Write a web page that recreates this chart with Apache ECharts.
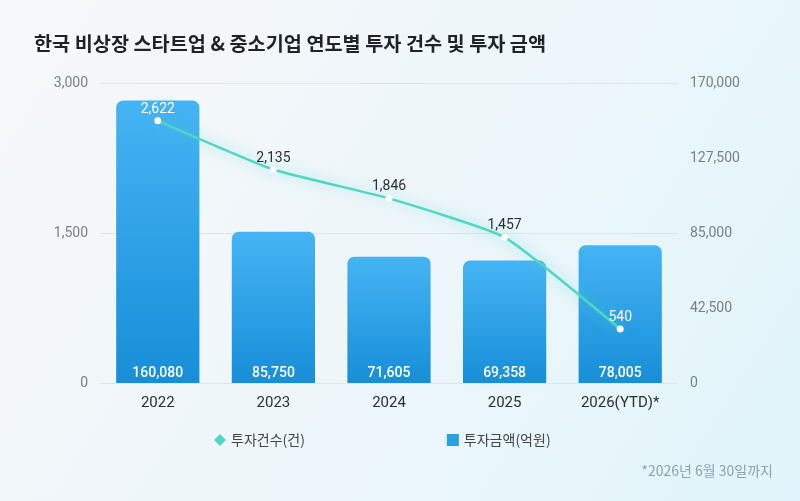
<!DOCTYPE html>
<html>
<head>
<meta charset="utf-8">
<script src="https://cdn.jsdelivr.net/npm/echarts@6/dist/echarts.min.js"></script>
<style>
    html, body { margin: 0; padding: 0; }
    #myChart { width: 800px; height: 501px; }
</style>
</head>
<body>
<div id="myChart"></div>
<script>
//데이터
var years = ['2022', '2023', '2024', '2025', '2026(YTD)*'];
var dealCounts = [2622, 2135, 1846, 1457, 540];
var dealAmounts = [160080, 85750, 71605, 69358, 78005];
var legendNames = ['투자건수(건)', '투자금액(억원)'];
var whiteLabelIdx = [0, 4]; //막대 위에 놓이는 라벨

function fmt(v) {
    return String(v).replace(/\B(?=(\d{3})+(?!\d))/g, ',');
}

var myChart = echarts.init(document.getElementById('myChart'));
var option = {
    backgroundColor: new echarts.graphic.LinearGradient(0, 0, 1, 1, [
        {offset: 0, color: '#f7f8fa'},
        {offset: 0.5, color: '#eef6fa'},
        {offset: 1, color: '#e0f5fb'}
    ]),
    textStyle: {
        fontFamily: 'Roboto, "Noto Sans CJK KR", sans-serif'
    },
    title: {
        text: '한국 비상장 스타트업 & 중소기업 연도별 투자 건수 및 투자 금액',
        left: 29,
        top: 29,
        textStyle: {
            fontFamily: '"Noto Sans CJK KR", sans-serif',
            fontSize: 19.7,
            fontWeight: 'bold',
            color: '#1f2329'
        }
    },
    graphic: [{
        type: 'text',
        right: 27,
        top: 464,
        style: {
            text: '*2026년 6월 30일까지',
            fill: '#8ea2ae',
            font: '14px "Noto Sans CJK KR", sans-serif'
        }
    }],
    legend: {
        left: 209,
        top: 428,
        itemGap: 142,
        itemWidth: 12,
        itemHeight: 12,
        textStyle: {
            fontFamily: '"Noto Sans CJK KR", sans-serif',
            fontSize: 14,
            color: '#444'
        },
        data: [
            {name: legendNames[0], icon: 'diamond', itemStyle: {color: '#4fd6c4'}},
            {name: legendNames[1], icon: 'rect', itemStyle: {color: '#2a9fe6'}}
        ]
    },
    grid: {
        top: 83,
        left: 100,
        right: 122,
        bottom: 118
    },
    xAxis: {
        type: 'category',
        data: years,
        axisLine: {show: true, lineStyle: {color: '#dfe5ea'}},
        axisTick: {show: false},
        axisLabel: {
            color: '#2b2f33',
            fontSize: 15,
            margin: 13
        }
    },
    yAxis: [{
        type: 'value',
        min: 0,
        max: 3000,
        interval: 1500,
        axisLine: {show: false},
        axisTick: {show: false},
        axisLabel: {
            color: '#7a8088',
            fontSize: 14,
            margin: 12,
            formatter: function (v) { return fmt(v); }
        },
        splitLine: {
            show: true,
            lineStyle: {color: '#dde4ea', width: 1}
        }
    }, {
        type: 'value',
        min: 0,
        max: 170000,
        interval: 42500,
        axisLine: {show: false},
        axisTick: {show: false},
        splitLine: {show: false},
        axisLabel: {
            color: '#7a8088',
            fontSize: 14,
            margin: 12,
            formatter: function (v) { return fmt(v); }
        }
    }],
    series: [{
        name: legendNames[1],
        type: 'bar',
        yAxisIndex: 1,
        data: dealAmounts,
        barWidth: '72%',
        itemStyle: {
            borderRadius: [7, 7, 0, 0],
            color: new echarts.graphic.LinearGradient(0, 0, 0, 1, [
                {offset: 0, color: '#46b4f4'},
                {offset: 1, color: '#178ed8'}
            ])
        },
        label: {
            show: true,
            position: 'insideBottom',
            distance: 3,
            color: '#ffffff',
            fontSize: 14,
            fontWeight: 500,
            formatter: function (p) { return fmt(p.value); }
        },
        z: 2
    }, {
        name: legendNames[0],
        type: 'line',
        yAxisIndex: 0,
        data: dealCounts,
        smooth: 0.15,
        symbol: 'circle',
        symbolSize: 7,
        lineStyle: {
            color: '#4fd6c4',
            width: 2.5,
            shadowColor: 'rgba(79,214,196,0.7)',
            shadowBlur: 14
        },
        itemStyle: {
            color: '#ffffff',
            borderColor: '#ffffff',
            borderWidth: 0
        },
        label: {
            show: true,
            position: 'top',
            distance: 1,
            fontSize: 14,
            color: '#2b2f33',
            formatter: function (p) {
                var t = fmt(p.value);
                return whiteLabelIdx.indexOf(p.dataIndex) >= 0 ? '{w|' + t + '}' : t;
            },
            rich: {
                w: {color: '#ffffff', fontSize: 14}
            }
        },
        z: 5
    }]
};
myChart.setOption(option);
</script>
</body>
</html>
